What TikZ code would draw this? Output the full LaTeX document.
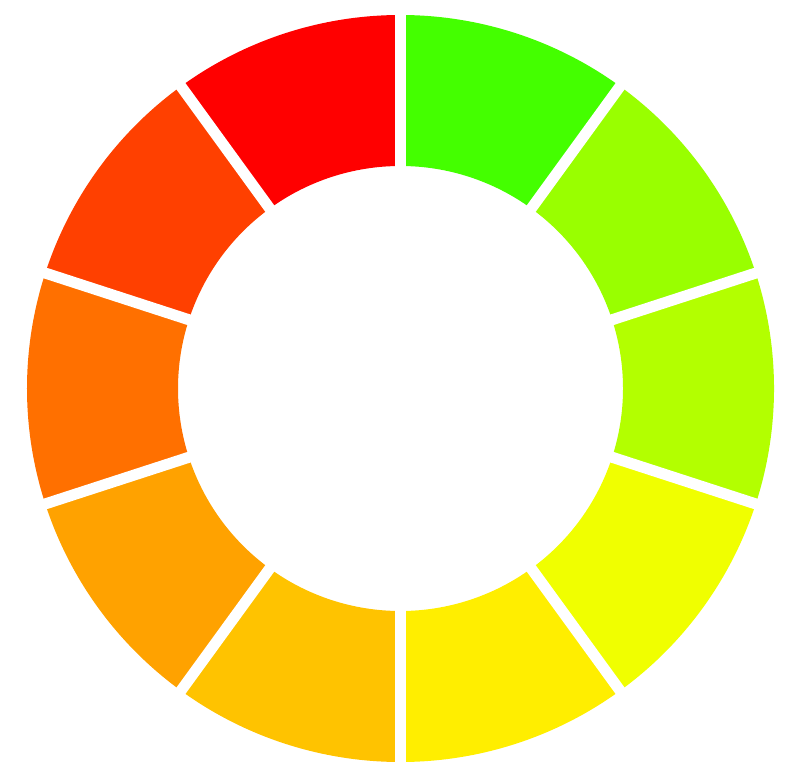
\documentclass[tikz,border=0pt]{standalone}
\usepackage{xcolor}
\usepackage{tikz}
\usetikzlibrary{positioning}

\definecolor{segA}{HTML}{44FF00}
\definecolor{segB}{HTML}{99FF00}
\definecolor{segC}{HTML}{B3FF00}
\definecolor{segD}{HTML}{F0FF00}
\definecolor{segE}{HTML}{FFEE00}
\definecolor{segF}{HTML}{FFC300}
\definecolor{segG}{HTML}{FFA200}
\definecolor{segH}{HTML}{FF7000}
\definecolor{segI}{HTML}{FF4000}
\definecolor{segJ}{HTML}{FF0000}

\begin{document}
\begin{tikzpicture}[
    seg gap/.style={draw=white,line width=1.1mm},
    seg fill/.style={fill=#1,draw=none}
]
\useasboundingbox (-4.005,-3.915) rectangle (3.945,3.885);

% ring segments, clockwise from the top
\foreach \c [count=\i] in {segA,segB,segC,segD,segE,segF,segG,segH,segI,segJ} {
    \pgfmathsetmacro{\sa}{90-36*(\i-1)}
    \pgfmathsetmacro{\ea}{54-36*(\i-1)}
    \fill[seg fill=\c] (\sa:2.225) -- (\sa:3.735)
        arc[start angle=\sa, end angle=\ea, radius=3.735]
        -- (\ea:2.225)
        arc[start angle=\ea, end angle=\sa, radius=2.225] -- cycle;
}

% white gaps between segments
\foreach \a in {90,54,18,-18,-54,-90,-126,-162,-198,-234}
    \draw[seg gap] (\a:2.0) -- (\a:3.8);

\end{tikzpicture}
\end{document}
